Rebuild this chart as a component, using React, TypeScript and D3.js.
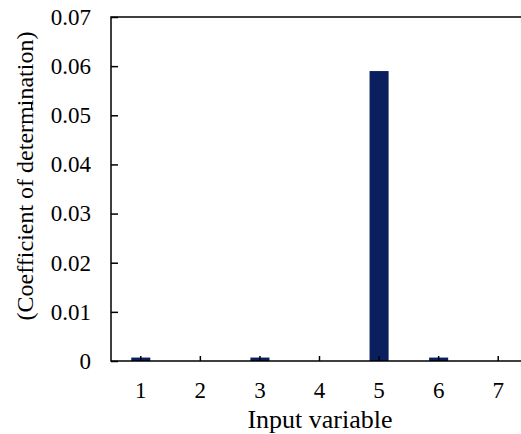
import React, {useEffect, useRef} from 'react'
import * as d3 from 'd3'

const categories = ['1', '2', '3', '4', '5', '6', '7'];
const values = [0.0007, 0, 0.0007, 0, 0.059, 0.0007, 0];
const yTicks = [0, 0.01, 0.02, 0.03, 0.04, 0.05, 0.06, 0.07];

const width = 521;
const height = 434;
const margin = ({top: 17, right: -7, bottom: 73, left: 111});
const font = '"Liberation Serif", "Times New Roman", serif';

export default function App() {
    const ref = useRef<SVGSVGElement>(null);

    useEffect(() => {
        const svg = d3.select(ref.current);
        svg.selectAll("*").remove();

        const x = d3.scaleBand()
            .domain(categories)
            .range([margin.left, width - margin.right])
            .paddingInner(0.68)
            .paddingOuter(0.34);

        const y = d3.scaleLinear()
            .domain([0, 0.07])
            .range([height - margin.bottom, margin.top]);

        // bars
        svg.append("g")
            .attr("fill", "#0b1f5e")
            .selectAll("rect")
            .data(values)
            .join("rect")
            .attr("x", (d, i) => x(categories[i]))
            .attr("y", d => y(d))
            .attr("width", x.bandwidth())
            .attr("height", d => y(0) - y(d));

        // frame
        svg.append("rect")
            .attr("x", margin.left)
            .attr("y", margin.top)
            .attr("width", width - margin.right - margin.left)
            .attr("height", y(0) - margin.top)
            .attr("fill", "none")
            .attr("stroke", "#000")
            .attr("stroke-width", 1.5);

        // y axis (ticks pointing inward)
        const yAxis = svg.append("g")
            .attr("transform", `translate(${margin.left},0)`)
            .call(d3.axisRight(y).tickValues(yTicks).tickSize(7).tickFormat(d => d === 0 ? "0" : d3.format(".2f")(d)));
        yAxis.attr("font-family", font).attr("font-size", 23);
        yAxis.select(".domain").remove();
        yAxis.selectAll(".tick line").attr("stroke-width", 1.5);
        yAxis.selectAll(".tick text")
            .attr("x", -20)
            .attr("text-anchor", "end")
            .style("font-family", font)
            .style("font-size", "23px")
            .attr("fill", "#000");

        // x axis (ticks pointing up)
        const xAxis = svg.append("g")
            .attr("transform", `translate(0,${y(0)})`)
            .call(d3.axisTop(x).tickSize(5).tickSizeOuter(0));
        xAxis.attr("font-family", font).attr("font-size", 23);
        xAxis.select(".domain").remove();
        xAxis.selectAll(".tick line").attr("stroke-width", 1.5);
        xAxis.selectAll(".tick text")
            .attr("y", 37)
            .attr("dy", 0)
            .style("font-family", font)
            .style("font-size", "23px")
            .attr("fill", "#000");

        // axis titles
        svg.append("text")
            .attr("x", 320)
            .attr("y", 428)
            .attr("text-anchor", "middle")
            .style("font-family", font)
            .style("font-size", "26px")
            .text("Input variable");

        svg.append("text")
            .attr("transform", `translate(33,176) rotate(-90)`)
            .attr("text-anchor", "middle")
            .style("font-family", font)
            .style("font-size", "24px")
            .text("(Coefficient of determination)");

        // small stray mark above the y title
        svg.append("line")
            .attr("x1", 31.5).attr("x2", 31.5)
            .attr("y1", 102).attr("y2", 109)
            .attr("stroke", "#000")
            .attr("stroke-width", 1);
    }, []);

    return <svg ref={ref} width={width} height={height}
                style={{position: "absolute", left: 0, top: 0, background: "#fff"}}/>;
}
